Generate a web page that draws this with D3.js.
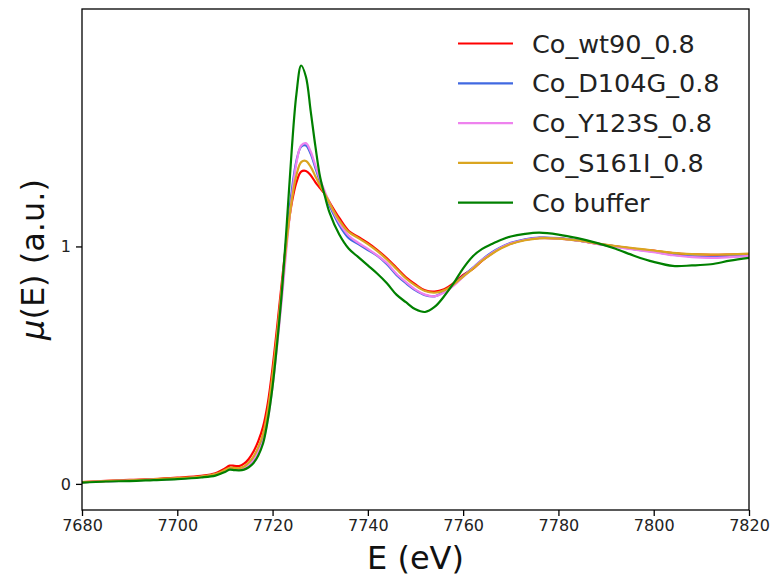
<!DOCTYPE html>
<html>
    <head>
        <style>
            body { margin: 0; background: #fff; }
            text { font-family: "DejaVu Sans", sans-serif; }
        </style>
    </head>
    <body>
        <svg id="chart" width="774" height="579"></svg>

        <script src="https://d3js.org/d3.v7.min.js"></script>
        <script>
            // energies (eV) shared by every spectrum
            const energy = [7680, 7685, 7690, 7695, 7700, 7705, 7708, 7710, 7711, 7712, 7713, 7714, 7715, 7716, 7717, 7718, 7719, 7720,
                7721, 7722, 7723, 7724, 7725, 7726, 7727, 7728, 7729, 7730, 7731, 7732, 7734, 7736, 7738, 7740, 7742, 7744,
                7746, 7748, 7750, 7752, 7754, 7756, 7758, 7760, 7762, 7764, 7766, 7768, 7770, 7773, 7776, 7780, 7784, 7788,
                7792, 7796, 7800, 7804, 7808, 7812, 7816, 7820]

            const wt90 = [0.008, 0.013, 0.017, 0.020, 0.026, 0.034, 0.045, 0.065, 0.077, 0.076, 0.075, 0.085, 0.105, 0.136, 0.18, 0.24, 0.34, 0.49,
                0.67, 0.86, 1.04, 1.18, 1.27, 1.315, 1.318, 1.30, 1.27, 1.245, 1.22, 1.185, 1.12, 1.065, 1.04, 1.015, 0.985, 0.95,
                0.91, 0.87, 0.84, 0.815, 0.81, 0.82, 0.845, 0.88, 0.905, 0.94, 0.97, 0.995, 1.012, 1.028, 1.036, 1.034, 1.025, 1.012,
                1.0, 0.99, 0.982, 0.972, 0.967, 0.965, 0.966, 0.968]
            const d104g = [0.006, 0.011, 0.014, 0.018, 0.022, 0.030, 0.040, 0.056, 0.066, 0.065, 0.064, 0.070, 0.085, 0.11, 0.15, 0.20, 0.30, 0.45,
                0.63, 0.83, 1.05, 1.23, 1.36, 1.42, 1.425, 1.39, 1.33, 1.27, 1.22, 1.17, 1.09, 1.035, 1.01, 0.985, 0.96, 0.925,
                0.88, 0.845, 0.815, 0.795, 0.79, 0.81, 0.84, 0.875, 0.91, 0.945, 0.975, 0.998, 1.015, 1.03, 1.037, 1.035, 1.025, 1.012,
                1.0, 0.988, 0.978, 0.965, 0.958, 0.955, 0.958, 0.962]
            const y123s = [0.006, 0.011, 0.014, 0.018, 0.022, 0.029, 0.039, 0.054, 0.064, 0.063, 0.062, 0.067, 0.080, 0.10, 0.135, 0.18, 0.27, 0.41,
                0.59, 0.79, 1.01, 1.20, 1.35, 1.425, 1.435, 1.40, 1.34, 1.28, 1.23, 1.18, 1.10, 1.045, 1.015, 0.99, 0.962, 0.93,
                0.885, 0.85, 0.818, 0.797, 0.79, 0.806, 0.835, 0.872, 0.908, 0.943, 0.972, 0.996, 1.013, 1.028, 1.035, 1.033, 1.024, 1.011,
                0.998, 0.986, 0.976, 0.963, 0.955, 0.952, 0.955, 0.960]
            const s161i = [0.007, 0.012, 0.015, 0.019, 0.024, 0.031, 0.041, 0.058, 0.068, 0.067, 0.066, 0.073, 0.090, 0.115, 0.155, 0.21, 0.31, 0.46,
                0.64, 0.84, 1.03, 1.19, 1.30, 1.355, 1.36, 1.335, 1.295, 1.255, 1.22, 1.18, 1.11, 1.06, 1.035, 1.01, 0.98, 0.945,
                0.905, 0.865, 0.835, 0.812, 0.805, 0.815, 0.84, 0.873, 0.905, 0.94, 0.968, 0.992, 1.01, 1.026, 1.034, 1.033, 1.025, 1.013,
                1.002, 0.992, 0.983, 0.973, 0.968, 0.966, 0.967, 0.970]
            const coBuffer = [0.005, 0.010, 0.012, 0.016, 0.020, 0.027, 0.035, 0.050, 0.060, 0.058, 0.057, 0.060, 0.070, 0.088, 0.12, 0.17, 0.27, 0.41,
                0.60, 0.82, 1.10, 1.40, 1.64, 1.762, 1.715, 1.57, 1.42, 1.29, 1.21, 1.14, 1.05, 0.99, 0.955, 0.92, 0.885, 0.845,
                0.797, 0.765, 0.735, 0.724, 0.745, 0.79, 0.845, 0.908, 0.958, 0.99, 1.01, 1.028, 1.042, 1.053, 1.058, 1.05, 1.035, 1.015,
                0.99, 0.96, 0.935, 0.918, 0.92, 0.925, 0.94, 0.952]

            const names = ["Co_wt90_0.8", "Co_D104G_0.8", "Co_Y123S_0.8", "Co_S161I_0.8", "Co buffer"]
            const colors = ["#ff0000", "#4169e1", "#ee82ee", "#daa520", "#008000"]
            const xTicks = [7680, 7700, 7720, 7740, 7760, 7780, 7800, 7820]
            const yTicks = [0, 1]

            const series = [wt90, d104g, y123s, s161i, coBuffer].map((v, i) => ({
                name: names[i], color: colors[i], values: v.map((val, j) => [energy[j], val])
            }))

            // axes box in pixels (note: "top" is taken by window.top)
            const boxL = 82, boxR = 749, boxT = 9, boxB = 510

            const svg = d3.select("#chart")

            const x = d3.scaleLinear().domain([7680, 7820]).range([boxL, boxR])
            const y = d3.scaleLinear().domain([-0.11, 2.0]).range([boxB, boxT])

            const line = d3.line()
                .curve(d3.curveCatmullRom.alpha(0.5))
                .x(d => x(d[0]))
                .y(d => y(d[1]))

            // clip to the axes box
            svg.append("clipPath").attr("id", "clip")
                .append("rect")
                .attr("x", boxL).attr("y", boxT)
                .attr("width", boxR - boxL).attr("height", boxB - boxT)

            svg.append("g")
                .attr("clip-path", "url(#clip)")
                .selectAll("path")
                .data(series)
                .join("path")
                    .attr("fill", "none")
                    .attr("stroke", d => d.color)
                    .attr("stroke-width", 2.2)
                    .attr("stroke-linejoin", "round")
                    .attr("d", d => line(d.values))

            const xAxis = svg.append("g")
                .attr("transform", `translate(0,${boxB})`)
                .call(d3.axisBottom(x).tickValues(xTicks).tickFormat(d3.format("d")).tickSizeOuter(0).tickSize(6).tickPadding(4))
            const yAxis = svg.append("g")
                .attr("transform", `translate(${boxL},0)`)
                .call(d3.axisLeft(y).tickValues(yTicks).tickFormat(d3.format("d")).tickSizeOuter(0).tickSize(6).tickPadding(5))

            for (const g of [xAxis, yAxis]) {
                g.select(".domain").remove()
                g.selectAll(".tick line").attr("stroke", "#000").attr("stroke-width", 1.3)
                g.selectAll(".tick text")
                    .attr("fill", "#222")
                    .attr("font-size", 16)
                    .attr("font-family", "DejaVu Sans")
            }

            // frame
            svg.append("rect")
                .attr("x", boxL).attr("y", boxT)
                .attr("width", boxR - boxL).attr("height", boxB - boxT)
                .attr("fill", "none")
                .attr("stroke", "#000")
                .attr("stroke-width", 1.3)

            svg.append("text")
                .attr("x", (boxL + boxR) / 2)
                .attr("y", 569)
                .attr("text-anchor", "middle")
                .attr("font-size", 32)
                .attr("fill", "#111")
                .text("E (eV)")

            const ylab = svg.append("text")
                .attr("transform", `translate(44,${(boxT + boxB) / 2}) rotate(-90)`)
                .attr("text-anchor", "middle")
                .attr("font-size", 32)
                .attr("fill", "#111")
            ylab.append("tspan").attr("font-style", "italic").text("μ")
            ylab.append("tspan").text("(E) (a.u.)")

            const legend = svg.append("g")
                .selectAll("g")
                .data(series)
                .join("g")
                    .attr("transform", (d, i) => `translate(458,${43.5 + i * 39.8})`)
            legend.append("line")
                .attr("x1", 0).attr("x2", 55)
                .attr("stroke", d => d.color)
                .attr("stroke-width", 2.2)
            legend.append("text")
                .attr("x", 74)
                .attr("dy", "0.36em")
                .attr("font-size", 25.5)
                .attr("fill", "#222")
                .text(d => d.name)
        </script>
    </body>
</html>
